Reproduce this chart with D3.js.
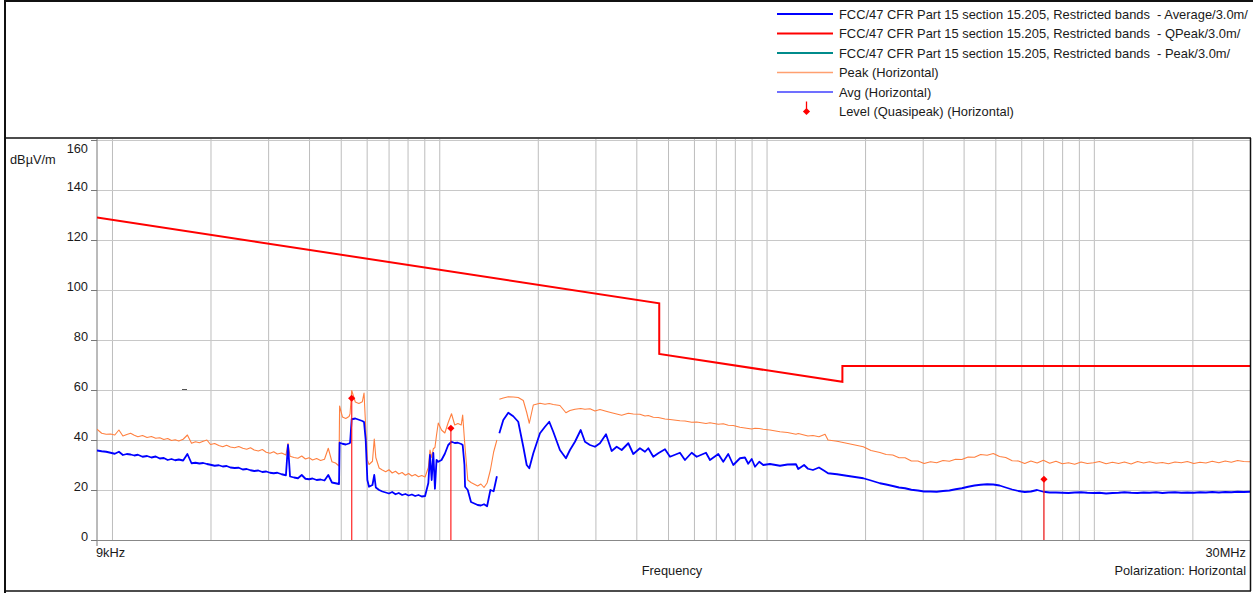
<!DOCTYPE html>
<html><head><meta charset="utf-8">
<script src="https://cdn.jsdelivr.net/npm/d3@7"></script>
<style>
body{margin:0;background:#fff;}
svg text{font-family:"Liberation Sans",Arial,sans-serif;fill:#1a1a1a;}
</style></head><body>
<svg id="chart" width="1253" height="593"></svg>
<script>
// ---------------- DATA ----------------
// Band A: 9 kHz - 150 kHz (frequencies in kHz)
const bandA_kHz = [9.0,9.3,9.6,9.9,10.2,10.5,10.8,11.1,11.4,11.7,12.0,12.4,12.8,13.2,13.6,14.0,14.4,14.8,15.2,15.6,16.0,16.5,17.0,17.5,18.0,18.5,19.0,19.5,20.0,20.6,21.2,21.8,22.4,23.0,23.7,24.4,25.1,25.8,26.5,27.2,28.0,28.8,29.6,30.4,31.2,32.0,33.0,34.0,34.5,35.0,36.0,37.0,38.0,39.0,40.0,41.0,42.2,43.4,44.6,45.8,47.0,48.2,49.4,49.6,50.6,51.8,53.0,53.4,54.0,55.4,56.8,58.2,58.9,59.6,60.3,61.0,62.5,63.3,64.0,65.5,67.0,68.6,70.2,71.8,73.5,75.2,77.0,78.8,80.6,82.5,84.4,86.4,88.4,90.5,92.6,93.7,94.8,95.9,97.0,98.1,99.3,101.6,104.0,106.5,109.0,111.5,114.0,116.7,117.9,119.4,119.9,122.2,125.0,128.0,131.0,134.0,137.0,140.0,143.3,146.6,150.0];
const bandA_peak = [44.3,42.7,42.3,42.4,42.0,44.0,41.6,42.2,42.7,41.9,41.3,41.8,41.0,41.4,40.7,40.9,40.2,40.6,39.8,40.1,39.6,40.3,42.0,38.7,39.3,38.9,39.5,40.0,38.2,38.6,37.8,37.3,37.9,37.2,36.9,37.4,36.7,36.3,36.9,36.0,35.6,36.2,35.1,34.7,35.3,34.4,34.8,34.0,38.7,33.5,33.0,32.7,33.6,32.4,32.9,32.0,32.6,31.8,32.3,36.7,31.3,30.8,29.6,53.6,49.2,48.6,49.4,50.5,59.8,55.2,54.6,55.3,58.8,45.0,32.0,30.2,31.5,40.4,33.0,28.8,28.0,27.3,28.1,26.8,27.5,26.4,27.0,25.9,26.6,25.6,26.2,25.3,25.8,25.2,29.0,36.0,33.0,36.5,37.0,42.0,46.8,44.0,42.8,47.0,50.5,46.0,46.6,46.0,50.0,40.0,37.0,24.0,23.0,22.3,21.6,22.4,21.0,22.8,28.0,35.2,40.0];
const bandA_avg = [35.8,35.5,35.3,34.9,34.5,35.3,34.0,34.4,34.2,33.8,34.1,33.3,33.6,33.0,33.4,32.6,32.8,32.0,32.4,31.9,32.2,31.8,34.4,30.7,30.9,30.6,30.8,30.4,30.1,29.7,29.9,29.4,29.6,29.0,28.8,28.9,28.2,28.4,27.9,27.6,27.8,27.2,27.4,26.9,26.7,26.9,26.3,25.9,38.0,25.4,25.0,24.7,26.0,24.5,24.3,24.6,24.0,24.2,23.8,26.0,23.0,22.7,22.4,38.9,38.5,38.2,38.6,38.9,48.3,48.6,48.1,47.6,47.2,40.0,24.0,21.3,22.0,26.0,21.0,20.0,19.4,19.0,18.6,19.2,18.3,18.8,18.0,18.4,17.8,18.2,17.6,18.0,17.4,17.6,22.8,34.0,24.0,34.8,20.5,32.0,31.3,32.0,34.5,38.0,39.3,38.8,38.9,38.4,38.0,30.0,21.3,20.0,15.2,14.6,14.0,13.8,14.3,13.5,20.0,19.5,25.5];

// Band B: 150 kHz - 30 MHz (frequencies in MHz)
const bandB_MHz = [0.1526,0.1569,0.1625,0.1683,0.1743,0.1806,0.185,0.1884,0.1938,0.2031,0.2104,0.2168,0.223,0.2337,0.2438,0.2508,0.2598,0.2705,0.2787,0.2887,0.299,0.3097,0.3232,0.3363,0.3484,0.3609,0.3781,0.3916,0.4104,0.4252,0.4352,0.4507,0.4668,0.4894,0.507,0.5437,0.5632,0.5905,0.6116,0.653,0.6717,0.7121,0.7374,0.7638,0.7912,0.8294,0.859,0.879,0.901,0.922,0.95,0.977,1.024,1.099,1.159,1.23,1.25,1.302,1.338,1.386,1.446,1.509,1.541,1.642,1.757,1.863,1.975,2.085,2.22,2.32,2.43,2.54,2.65,2.77,2.90,3.03,3.17,3.31,3.46,3.62,3.78,3.95,4.13,4.32,4.51,4.72,4.93,5.15,5.38,5.63,5.88,6.15,6.42,6.71,7.01,7.33,7.66,8.01,8.37,8.74,9.14,9.55,9.98,10.4,10.9,11.4,11.9,12.4,13.0,13.6,14.2,14.8,15.5,16.2,16.9,17.7,18.5,19.3,20.2,21.1,22.0,23.0,24.1,25.2,26.3,27.5,28.7,30.0];
const bandB_peak = [56.3,56.8,57.3,57.2,57.0,55.8,51.0,46.7,54.0,54.7,54.3,54.6,54.2,53.8,50.9,51.8,52.3,52.6,52.3,52.5,51.6,52.2,51.5,50.9,50.4,49.9,50.7,50.4,50.3,49.6,49.8,49.1,49.0,48.4,48.2,47.7,47.6,47.1,47.2,46.6,46.9,46.3,46.5,45.9,45.8,45.1,44.8,44.6,44.4,44.7,44.6,44.3,44.0,43.3,43.0,42.3,42.6,42.0,41.6,41.8,41.3,42.3,40.0,39.5,38.7,38.0,37.3,35.8,35.0,34.2,34.0,32.9,32.9,31.6,31.6,30.6,31.3,30.9,31.8,31.5,32.3,32.2,33.2,33.1,34.2,33.9,34.6,33.4,33.0,31.7,31.6,30.6,31.6,30.8,31.9,30.7,31.5,30.5,30.9,30.3,31.2,30.6,30.9,31.4,30.5,31.1,30.6,31.2,30.4,31.4,30.8,31.3,30.7,31.0,30.5,31.2,30.9,31.4,30.6,31.1,30.8,31.5,30.9,31.6,31.1,31.8,31.4,31.3];
const bandB_avg = [42.7,48.0,50.9,49.5,47.3,37.3,30.0,28.7,34.7,42.7,45.3,47.3,43.3,36.0,32.7,36.0,39.3,44.0,39.3,38.0,37.3,38.7,42.3,35.6,37.3,36.0,38.7,34.4,36.7,35.3,36.7,33.3,34.7,36.3,33.3,34.9,32.0,34.9,33.3,34.9,32.0,34.4,31.3,34.4,30.0,32.7,33.0,30.5,32.4,29.3,31.3,30.0,30.4,29.7,30.2,30.3,28.4,30.0,28.5,28.0,29.0,27.5,26.7,26.3,25.7,25.2,24.7,23.8,22.7,22.2,21.6,21.0,20.7,20.1,19.8,19.4,19.4,19.3,19.6,19.8,20.3,20.7,21.3,21.8,22.1,22.3,22.2,21.8,21.0,20.2,19.6,19.2,19.4,20.0,19.3,19.0,19.0,18.9,18.8,19.0,19.1,18.9,18.8,18.9,18.6,18.8,18.9,19.1,18.9,18.8,19.0,18.9,19.1,18.8,19.0,19.1,18.9,19.0,18.9,19.1,19.0,19.2,19.0,19.2,19.1,19.3,19.2,19.3];

// QPeak limit (FCC 15.205 restricted bands, 3 m)
const limitQP_MHz = [0.009, 0.47, 0.47, 1.705, 1.705, 30];
const limitQP_dB  = [129.0, 94.7, 74.4, 63.3, 69.6, 69.6];

// Quasi-peak final measurements
const qp_MHz   = [0.054, 0.1085, 7.04];
const qp_level = [56.7, 44.7, 24.3];

// Axis ticks
const yTicks = [0,20,40,60,80,100,120,140,160];
const gridFreqMHz = [0.01,0.02,0.03,0.04,0.05,0.06,0.07,0.08,0.09,0.1,0.2,0.3,0.4,0.5,0.6,0.7,0.8,0.9,1,2,3,4,5,6,7,8,9,10,20];

const legendLabels = [
  "FCC/47 CFR Part 15 section 15.205, Restricted bands  - Average/3.0m/",
  "FCC/47 CFR Part 15 section 15.205, Restricted bands  - QPeak/3.0m/",
  "FCC/47 CFR Part 15 section 15.205, Restricted bands  - Peak/3.0m/",
  "Peak (Horizontal)",
  "Avg (Horizontal)",
  "Level (Quasipeak) (Horizontal)"
];
const legendColors = ["#0000ff","#ff0000","#008b8b","#ffa070","#4040ff","#ff0000"];

// ---------------- DRAW ----------------
const svg = d3.select("#chart");
const L = 97, R = 1250, T = 139, B = 540;
const x = d3.scaleLog().domain([0.009, 30]).range([L, R]);
const y = d3.scaleLinear().domain([0, 160]).range([B, 140]);

svg.append("rect").attr("width",1253).attr("height",593).attr("fill","#fff");

// vertical grid
const gx = svg.append("g").attr("transform",`translate(0,${B})`)
  .call(d3.axisBottom(x).tickValues(gridFreqMHz).tickSize(-(B-T)).tickFormat(""));
gx.select(".domain").remove();
gx.selectAll("line").attr("stroke","#bdbdbd").attr("stroke-width",1);

// horizontal grid
const gy = svg.append("g").attr("transform",`translate(${L},0)`)
  .call(d3.axisLeft(y).tickValues(yTicks.slice(1)).tickSize(-(R-L)).tickFormat(""));
gy.select(".domain").remove();
gy.selectAll("line").attr("stroke","#c8c8c8").attr("stroke-width",1);

// y axis with labels
const ya = svg.append("g").attr("transform",`translate(${L},0)`)
  .call(d3.axisLeft(y).tickValues(yTicks).tickSize(6).tickPadding(3));
ya.select(".domain").attr("stroke","#777").attr("d",`M0,${T}V${B+6}`);
ya.selectAll("line").attr("stroke","#777");
ya.selectAll("text").attr("font-size",12.8).attr("dy","0.05em")
  .attr("font-family","Liberation Sans, Arial, sans-serif").attr("fill","#1a1a1a");
ya.selectAll("text").filter(d => d === 160).attr("dy","0.95em");

// x axis line
svg.append("line").attr("x1",L).attr("x2",R).attr("y1",B+0.5).attr("y2",B+0.5)
  .attr("stroke","#888").attr("stroke-width",1);

// clip
svg.append("clipPath").attr("id","clip").append("rect")
  .attr("x",L).attr("y",T).attr("width",R-L).attr("height",B-T);
const plot = svg.append("g").attr("clip-path","url(#clip)");

const line = d3.line().x(d => x(d[0])).y(d => y(d[1]));

const aPeak = bandA_kHz.map((f,i)=>[f/1000, bandA_peak[i]]);
const aAvg  = bandA_kHz.map((f,i)=>[f/1000, bandA_avg[i]]);
const bPeak = bandB_MHz.map((f,i)=>[f, bandB_peak[i]]);
const bAvg  = bandB_MHz.map((f,i)=>[f, bandB_avg[i]]);

[aPeak,bPeak].forEach(d => plot.append("path").datum(d).attr("d",line)
  .attr("fill","none").attr("stroke","#ff8040").attr("stroke-width",1.1).attr("stroke-linejoin","round"));
[aAvg,bAvg].forEach(d => plot.append("path").datum(d).attr("d",line)
  .attr("fill","none").attr("stroke","#0000ff").attr("stroke-width",1.8).attr("stroke-linejoin","round"));

// limit line
const lim = limitQP_MHz.map((f,i)=>[f, limitQP_dB[i]]);
plot.append("path").datum(lim).attr("d",line).attr("fill","none")
  .attr("stroke","#ff0000").attr("stroke-width",2);

// QP markers (square rotated 45deg -> diamond)
const diamond = d3.symbol(d3.symbolSquare).size(26)();
qp_MHz.forEach((f,i) => {
  svg.append("line").attr("x1",x(f)).attr("x2",x(f)).attr("y1",y(qp_level[i])).attr("y2",B)
    .attr("stroke","#ff2020").attr("stroke-width",1.4).attr("opacity",0.85);
  svg.append("path").attr("d",diamond)
    .attr("transform",`translate(${x(f)},${y(qp_level[i])}) rotate(45)`).attr("fill","#ff0000");
});

// small stray dash
svg.append("line").attr("x1",182).attr("x2",187).attr("y1",389.5).attr("y2",389.5)
  .attr("stroke","#555").attr("stroke-width",1);

// labels
svg.append("text").attr("x",10).attr("y",164).attr("font-size",12.8).text("dBµV/m");
svg.append("text").attr("x",L-1).attr("y",557).attr("font-size",12.8).text("9kHz");
svg.append("text").attr("x",1246).attr("y",557).attr("font-size",12.8).attr("text-anchor","end").text("30MHz");
svg.append("text").attr("x",672).attr("y",575).attr("font-size",12.8).attr("text-anchor","middle").text("Frequency");
svg.append("text").attr("x",1246).attr("y",575).attr("font-size",12.8).attr("text-anchor","end").text("Polarization: Horizontal");

// legend
const lg = svg.append("g");
legendLabels.forEach((t,i) => {
  const cy = 14 + i*19.5;
  if (i < 5) {
    lg.append("line").attr("x1",777).attr("x2",833).attr("y1",cy).attr("y2",cy)
      .attr("stroke",legendColors[i]).attr("stroke-width", i < 3 ? 2 : 1.5);
  } else {
    lg.append("line").attr("x1",806.5).attr("x2",806.5).attr("y1",cy-10).attr("y2",cy)
      .attr("stroke",legendColors[i]).attr("stroke-width",1.3);
    lg.append("path").attr("d",diamond)
      .attr("transform",`translate(806.5,${cy}) rotate(45)`).attr("fill",legendColors[i]);
  }
  lg.append("text").attr("x",839).attr("y",cy+4.5).attr("font-size",12.9)
    .style("white-space","pre").text(t);
});

// frame
const frame = svg.append("g").attr("stroke","#111").attr("fill","none");
frame.append("line").attr("x1",5).attr("x2",5).attr("y1",0).attr("y2",593).attr("stroke-width",2);
frame.append("line").attr("x1",4).attr("x2",1253).attr("y1",1).attr("y2",1).attr("stroke-width",2);
frame.append("line").attr("x1",4).attr("x2",1251).attr("y1",138).attr("y2",138).attr("stroke-width",1.5);
frame.append("line").attr("x1",1250.5).attr("x2",1250.5).attr("y1",138).attr("y2",591).attr("stroke-width",1.5);
frame.append("line").attr("x1",4).attr("x2",1251).attr("y1",591).attr("y2",591).attr("stroke-width",1.5);
</script>
</body></html>
